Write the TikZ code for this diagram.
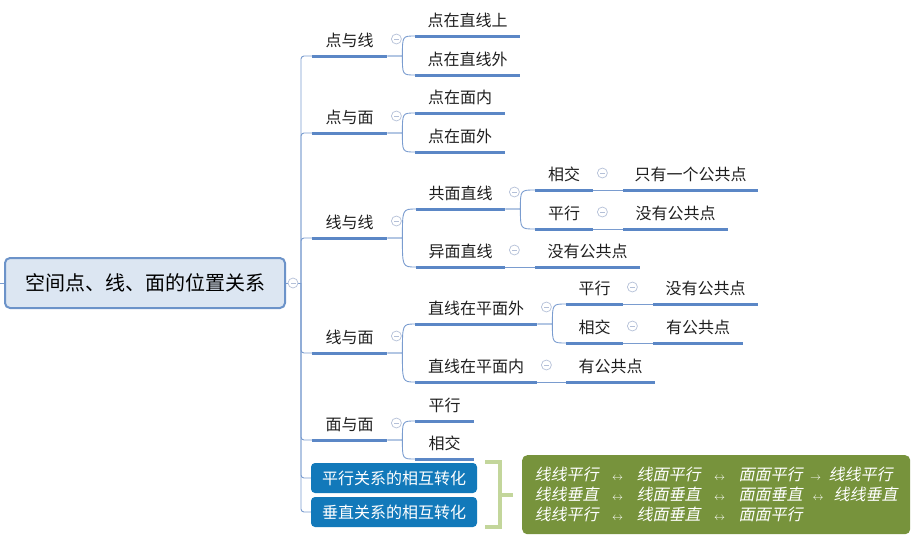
\documentclass[tikz,border=0pt]{standalone}
\usepackage{fontspec}
\setmainfont{Noto Sans CJK SC}
\newfontfamily\cjkit[FakeSlant=0.2]{Noto Sans CJK SC}
\usetikzlibrary{calc}

\definecolor{lineblue}{HTML}{7A9CCF}
\definecolor{ulblue}{HTML}{5B87C6}
\definecolor{minusgray}{HTML}{B4C0D8}
\definecolor{rootfill}{HTML}{DCE6F2}
\definecolor{rootdraw}{HTML}{6C93C9}
\definecolor{boxblue}{HTML}{1279BA}
\definecolor{notegreen}{HTML}{77933C}
\definecolor{bracegreen}{HTML}{C3D69B}

\newcommand{\ar}[1][38pt]{\makebox[#1]{\fontsize{11}{11}\selectfont$\leftrightarrow$}}
\newcommand{\ra}[1][26pt]{\makebox[#1]{\fontsize{11}{11}\selectfont$\rightarrow$}}

\begin{document}
\begin{tikzpicture}[x=1pt, y=-1pt,
	topic/.style={anchor=south west, inner sep=0, minimum height=30pt, text=black!88, font=\fontsize{16}{16}\selectfont},
	uline/.style={ulblue, line width=3pt},
	conn/.style={lineblue, line width=0.9pt},
	minus/.style={circle, draw=minusgray, fill=white, line width=0.7pt, minimum size=10pt, inner sep=0,
		path picture={\draw[minusgray, line width=0.8pt] ([xshift=2.5pt]path picture bounding box.center) -- ([xshift=-2.5pt]path picture bounding box.center);}},
	relbox/.style={fill=boxblue, rounded corners=4pt, text=white, minimum width=166pt, minimum height=30pt, inner sep=0, font=\fontsize{16}{16}\selectfont}]
	\useasboundingbox (0,0) rectangle (916,542);

	% root
	\node [fill=rootfill, draw=rootdraw, line width=2pt, rounded corners=5pt, minimum width=280pt, minimum height=50pt, inner sep=0, font=\fontsize{20}{20}\selectfont] (root) at (145,283) {空间点、线、面的位置关系};
	\coordinate (lend) at (0,283);
	\coordinate (hub) at (301,283);
	\draw [conn] (lend) -- (root.west);
	\draw [conn] (root.east) -- (hub);

	% first level
	\node [topic, minimum width=75pt] (dx) at (312,56) {点与线};
	\node [topic, minimum width=75pt] (dm) at (312,133) {点与面};
	\node [topic, minimum width=75pt] (xx) at (312,238) {线与线};
	\node [topic, minimum width=75pt] (xm) at (312,353) {线与面};
	\node [topic, minimum width=75pt] (mm) at (312,440) {面与面};
	\node [relbox] (pz) at (394,478) {平行关系的相互转化};
	\node [relbox] (cz) at (394,512) {垂直关系的相互转化};

	% second level
	\node [topic, minimum width=105pt] (dx1) at (415,36) {点在直线上};
	\node [topic, minimum width=105pt] (dx2) at (415,75) {点在直线外};
	\node [topic, minimum width=90pt] (dm1) at (415,113) {点在面内};
	\node [topic, minimum width=90pt] (dm2) at (415,152) {点在面外};
	\node [topic, minimum width=89pt] (gm) at (416,209) {共面直线};
	\node [topic, minimum width=89pt] (ym) at (416,267) {异面直线};
	\node [topic, minimum width=122pt] (mw) at (415,324) {直线在平面外};
	\node [topic, minimum width=122pt] (mn) at (415,382) {直线在平面内};
	\node [topic, minimum width=59pt] (mm1) at (415,421) {平行};
	\node [topic, minimum width=59pt] (mm2) at (415,459) {相交};

	% third level
	\node [topic, minimum width=58pt] (gx) at (535,190) {相交};
	\node [topic, minimum width=135pt] (gx1) at (623,190) {只有一个公共点};
	\node [topic, minimum width=58pt] (gp) at (535,229) {平行};
	\node [topic, minimum width=105pt] (gp1) at (623,229) {没有公共点};
	\node [topic, minimum width=105pt] (ym1) at (535,267) {没有公共点};
	\node [topic, minimum width=57pt] (wp) at (566,304) {平行};
	\node [topic, minimum width=105pt] (wp1) at (653,304) {没有公共点};
	\node [topic, minimum width=57pt] (wx) at (566,343) {相交};
	\node [topic, minimum width=90pt] (wx1) at (653,343) {有公共点};
	\node [topic, minimum width=89pt] (mn1) at (566,382) {有公共点};

	% spine
	\foreach \c in {dx,dm,xx,xm,mm}
		\draw [conn, rounded corners=3pt] (hub) |- (\c.south west);
	\foreach \c in {pz,cz}
		\draw [conn, rounded corners=3pt] (hub) |- (\c.west);

	% forks
	\foreach \p/\c in {dx/dx1,dx/dx2,dm/dm1,dm/dm2,xx/gm,xx/ym,gm/gx,gm/gp,xm/mw,xm/mn,mw/wp,mw/wx,mm/mm1,mm/mm2}
		\draw [conn] (\p.south east) -- ++(15,0) coordinate (j) .. controls (j |- \c.south west) .. (\c.south west);
	\foreach \p/\c in {gx/gx1,gp/gp1,ym/ym1,wp/wp1,wx/wx1,mn/mn1}
		\draw [conn] (\p.south east) -- (\c.south west);

	% underlines
	\foreach \n in {dx,dm,xx,xm,mm,dx1,dx2,dm1,dm2,gm,ym,mw,mn,mm1,mm2,gx,gx1,gp,gp1,ym1,wp,wp1,wx,wx1,mn1}
		\draw [uline] (\n.south west) -- (\n.south east);

	% collapse marks
	\node [minus] at (293,283) {};
	\foreach \n in {dx,dm,xx,xm,mm,gm,ym,mw,mn,gx,gp,wp,wx}
		\node [minus] at ([shift={(9,-17)}]\n.south east) {};

	% summary
	\draw [bracegreen, line width=4pt] (485,462) -| (500,527) -- (485,527);
	\draw [bracegreen, line width=4pt] (500,495) -- (513,495);
	\node [fill=notegreen, rounded corners=5pt, anchor=north west, minimum width=388pt, minimum height=79pt, inner sep=0, align=left, text=white, font=\cjkit\fontsize{16}{20}\selectfont] (note) at (522,455)
		{线线平行\ar 线面平行\ar 面面平行\ra 线线平行\\
		 线线垂直\ar 线面垂直\ar 面面垂直\ar[31pt]线线垂直\\
		 线线平行\ar 线面垂直\ar 面面平行};
\end{tikzpicture}
\end{document}
